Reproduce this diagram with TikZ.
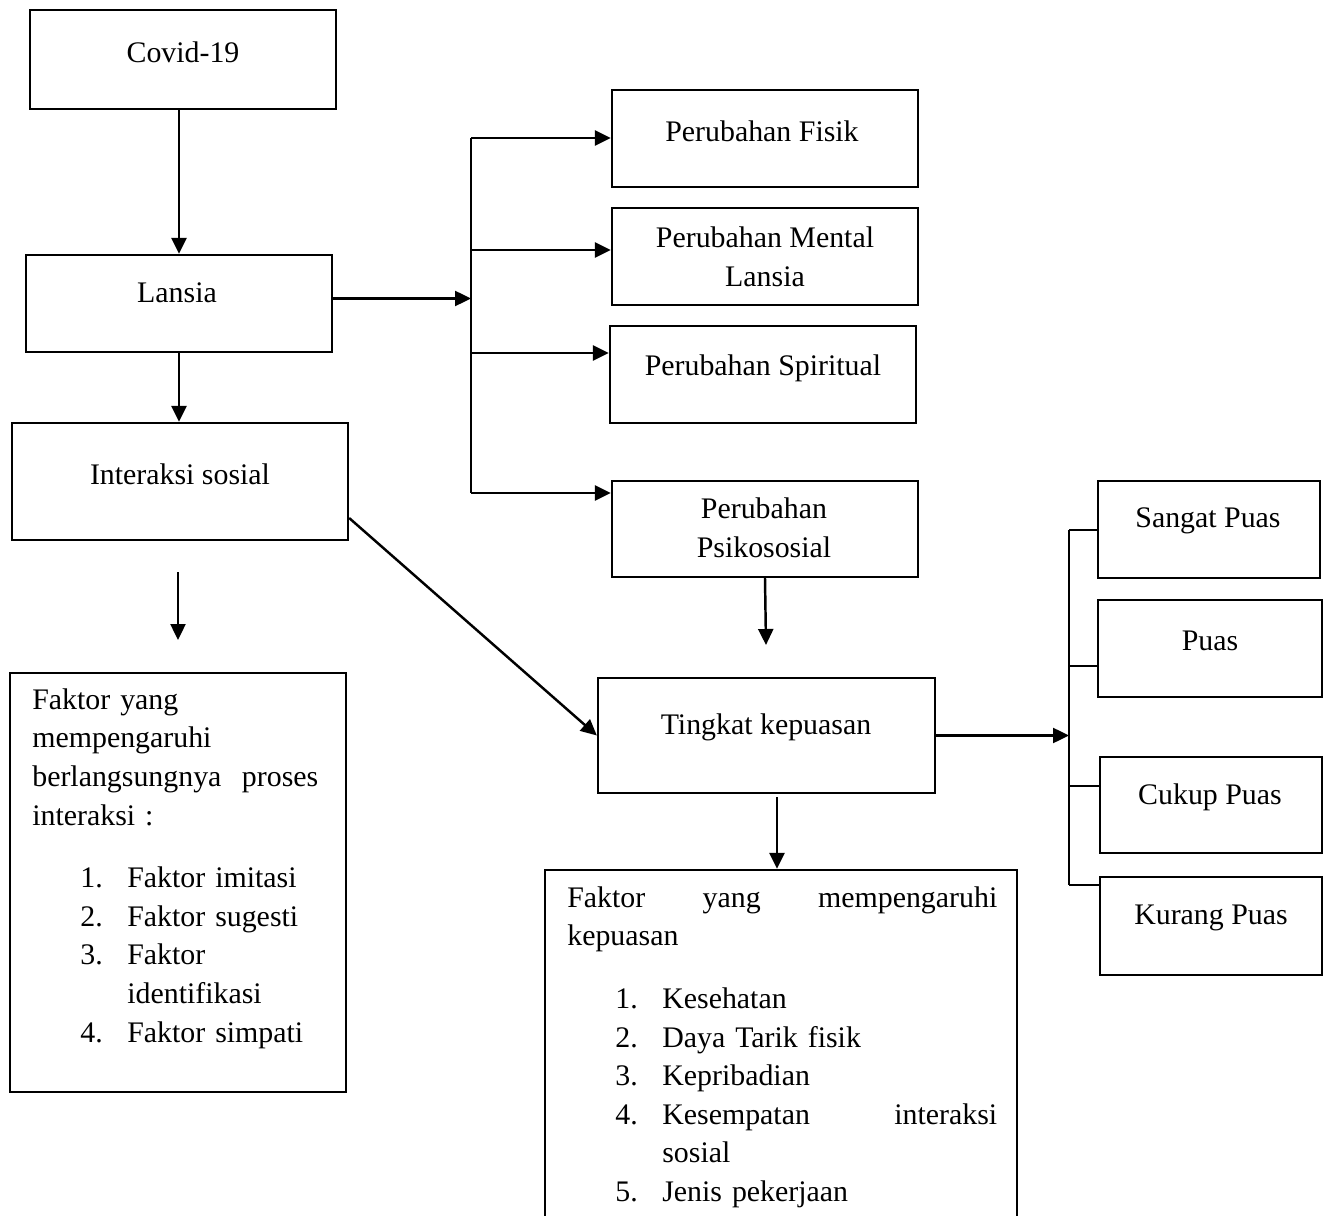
\documentclass[tikz,border=0pt]{standalone}
\usepackage{fontspec}
\setmainfont{Liberation Serif}
\usetikzlibrary{arrows.meta,calc}

\newcommand{\itm}[2]{\hspace*{0.96cm}\makebox[0.94cm][l]{#1}#2}

\begin{document}
\begin{tikzpicture}[x=0.02cm, y=-0.02cm,
    >={Triangle[length=0.32cm, width=0.3cm]},
    box/.style 2 args={draw, line width=1.3pt, minimum width=#1*0.02cm,
      minimum height=#2*0.02cm, inner sep=0pt},
    txt/.style={font=\fontsize{17}{22}\selectfont, inner sep=0pt, align=center},
    blk/.style={font=\fontsize{17}{22}\selectfont, inner sep=0pt, align=left,
      anchor=north west},
    edge/.style={->, line width=1.4pt},
    ln/.style={line width=1.4pt}]

  \clip (0,0) rectangle (1326,1216);

  % left column
  \node[box={306}{99}]  (covid)   at (183,59.5)  {};
  \node[box={306}{97}]  (lansia)  at (179,303.5) {};
  \node[box={336}{117}] (inter)   at (180,481.5) {};
  \node[box={336}{419}] (faktorA) at (178,882.5) {};

  \node[txt] (covidT)  at (183,52)  {Covid-19};
  \node[txt] (lansiaT) at (177,293) {Lansia};
  \node[txt] (interT)  at (180,474) {Interaksi sosial};
  \node[blk, text width=5.72cm] (faktorAT) at (32,688) {Faktor yang\\
    mempengaruhi\\
    berlangsungnya\hfill proses\\
    interaksi\ :\\[0.48cm]
    \itm{1.}{Faktor imitasi}\\
    \itm{2.}{Faktor sugesti}\\
    \itm{3.}{Faktor}\\
    \itm{}{identifikasi}\\
    \itm{4.}{Faktor simpati}};

  % middle column
  \node[box={306}{97}]  (fisik)   at (765,138.5) {};
  \node[box={306}{97}]  (mental)  at (765,256.5) {};
  \node[box={306}{97}]  (spirit)  at (763,374.5) {};
  \node[box={306}{96}]  (psiko)   at (765,529)   {};
  \node[box={337}{115}] (tingkat) at (766.5,735.5) {};
  \node[box={472}{400}] (faktorB) at (781,1070)  {};

  \node[txt] (fisikT)   at (762,131) {Perubahan Fisik};
  \node[txt] (mentalT)  at (765,256.5) {Perubahan Mental\\Lansia};
  \node[txt] (spiritT)  at (763,368) {Perubahan Spiritual};
  \node[txt] (psikoT)   at (764,528) {Perubahan\\Psikososial};
  \node[txt] (tingkatT) at (766,727) {Tingkat kepuasan};
  \node[blk, text width=8.6cm] (faktorBT) at (567,886) {Faktor\hfill yang\hfill mempengaruhi\\
    kepuasan\\[0.48cm]
    \itm{1.}{Kesehatan}\\
    \itm{2.}{Daya Tarik fisik}\\
    \itm{3.}{Kepribadian}\\
    \itm{4.}{Kesempatan\hfill interaksi}\\
    \itm{}{sosial}\\
    \itm{5.}{Jenis pekerjaan}};

  % right column
  \node[box={222}{97}] (sangat) at (1209,529.5) {};
  \node[box={224}{97}] (puas)   at (1210,648.5) {};
  \node[box={222}{96}] (cukup)  at (1211,805)   {};
  \node[box={222}{98}] (kurang) at (1211,926)   {};

  \node[txt] (sangatT) at (1208,521) {Sangat Puas};
  \node[txt] (puasT)   at (1210,641) {Puas};
  \node[txt] (cukupT)  at (1210,797) {Cukup Puas};
  \node[txt] (kurangT) at (1211,918) {Kurang Puas};

  % brackets and free ends
  \coordinate (b1) at (471,138);
  \coordinate (b2) at (471,250);
  \coordinate (b3) at (471,353);
  \coordinate (b4) at (471,493);
  \coordinate (c1) at (1069,530);
  \coordinate (c2) at (1069,666);
  \coordinate (c3) at (1069,786);
  \coordinate (c4) at (1069,885);
  \coordinate (a1) at (178,572);
  \coordinate (a2) at (178,640);
  \coordinate (p1) at (766,645);
  \coordinate (t1) at (777,797);

  \draw[edge] (lansia.north |- covid.south) -- (lansia.north);
  \draw[edge] (lansia.south) -- (lansia.south |- inter.north);
  \draw[edge] (a1) -- (a2);
  \draw[edge] ([yshift=0.1cm]lansia.east) -- ([yshift=0.1cm]lansia.east -| b1);

  \draw[ln] (b1) -- (b4);
  \draw[edge] (b1) -- (b1 -| fisik.west);
  \draw[edge] (b2) -- (b2 -| mental.west);
  \draw[edge] (b3) -- (b3 -| spirit.west);
  \draw[edge] (b4) -- (b4 -| psiko.west);

  \draw[edge] (psiko.south) -- (p1);
  \draw[edge] ([yshift=-0.73cm]inter.east) -- (tingkat.west);
  \draw[edge] (t1) -- (t1 |- faktorB.north);
  \draw[edge] (tingkat.east) -- (tingkat.east -| c1);

  \draw[ln] (c1) -- (c4);
  \draw[ln] (c1) -- (c1 -| sangat.west);
  \draw[ln] (c2) -- (c2 -| puas.west);
  \draw[ln] (c3) -- (c3 -| cukup.west);
  \draw[ln] (c4) -- (c4 -| kurang.west);
\end{tikzpicture}
\end{document}
